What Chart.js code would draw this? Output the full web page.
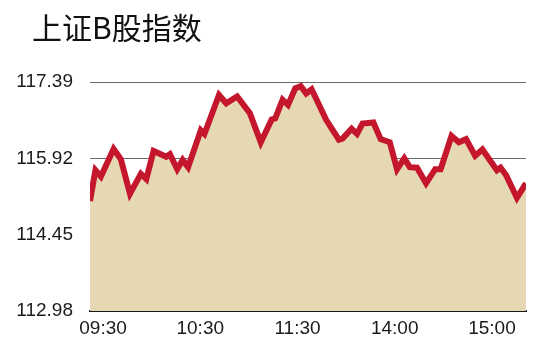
<!DOCTYPE html>
<html>
<head>
<meta charset="utf-8">
<script src="https://cdn.jsdelivr.net/npm/chart.js@4/dist/chart.umd.min.js"></script>
<style>
  html, body { margin: 0; padding: 0; background: #ffffff; }
  #c { display: block; }
</style>
</head>
<body>
<canvas id="c" width="550" height="346"></canvas>
<script>
// Minutes since the 09:30 open (trading minutes, lunch break removed)
const times = [0,3,6,13,17,22,28,31,35,42,44,48,51,54,61,63,71,75,81,88,94,100,102,106,109,113,116,119,122,130,137,139,144,147,150,156,160,165,169,173,176,180,185,190,193,199,203,207,212,216,224,226,229,235,240];
// Index value
const values = [115.10,115.69,115.57,116.10,115.90,115.24,115.62,115.52,116.06,115.95,116.00,115.71,115.89,115.75,116.46,116.39,117.14,116.98,117.11,116.79,116.23,116.67,116.69,117.05,116.95,117.27,117.31,117.17,117.25,116.66,116.28,116.30,116.49,116.39,116.59,116.61,116.29,116.23,115.71,115.92,115.75,115.74,115.44,115.71,115.71,116.35,116.23,116.29,115.97,116.09,115.69,115.74,115.60,115.16,115.44];
const xTickLabels = ['09:30','10:30','11:30','14:00','15:00'];
const yTicks = [112.98, 114.45, 115.92, 117.39];
const titleText = '上证B股指数';

const points = times.map((t, i) => ({ x: t, y: values[i] }));

// shift the title box to the right after layout
const titleIndent = {
  id: 'titleIndent',
  afterLayout(chart) {
    if (chart.titleBlock) { chart.titleBlock.left = 32; }
  }
};

new Chart(document.getElementById('c'), {
  type: 'line',
  data: {
    datasets: [{
      data: points,
      borderColor: '#c4162c',
      backgroundColor: '#e7d8b4',
      borderWidth: 6,
      borderJoinStyle: 'miter',
      borderCapStyle: 'butt',
      fill: 'start',
      pointRadius: 0,
      tension: 0
    }]
  },
  plugins: [titleIndent],
  options: {
    responsive: false,
    animation: false,
    devicePixelRatio: 1,
    layout: { padding: { left: 0, right: 24, top: 0, bottom: 0 } },
    plugins: {
      legend: { display: false },
      tooltip: { enabled: false },
      title: {
        display: true,
        text: titleText,
        align: 'start',
        color: '#111111',
        font: { family: '"Noto Sans CJK SC", sans-serif', size: 30, weight: 'normal', lineHeight: 1.2 },
        padding: { top: 10, bottom: 36 }
      }
    },
    scales: {
      x: {
        type: 'linear',
        display: false,
        min: times[0],
        max: times[times.length - 1]
      },
      xl: {
        type: 'linear',
        position: 'bottom',
        min: -0.134,
        max: 4.35,
        afterBuildTicks: axis => { axis.ticks = xTickLabels.map((_, i) => ({ value: i })); },
        afterFit: axis => { axis.height = 35; },
        grid: { display: false, drawTicks: false },
        border: { display: true, color: '#1a1a1a', width: 2 },
        ticks: {
          autoSkip: false,
          maxRotation: 0,
          padding: 6,
          color: '#1a1a1a',
          font: { family: '"Liberation Sans", Arial, sans-serif', size: 19 },
          callback: v => xTickLabels[Math.round(v)]
        }
      },
      y: {
        type: 'linear',
        min: yTicks[0],
        max: yTicks[yTicks.length - 1],
        afterBuildTicks: axis => { axis.ticks = yTicks.map(v => ({ value: v })); },
        afterFit: axis => { axis.width = 90; },
        grid: { color: '#6a6a6a', lineWidth: 1, drawTicks: false },
        border: { display: false },
        ticks: {
          padding: 17,
          color: '#1a1a1a',
          font: { family: '"Liberation Sans", Arial, sans-serif', size: 19 },
          callback: v => Number(v).toFixed(2)
        }
      }
    }
  }
});
</script>
</body>
</html>
